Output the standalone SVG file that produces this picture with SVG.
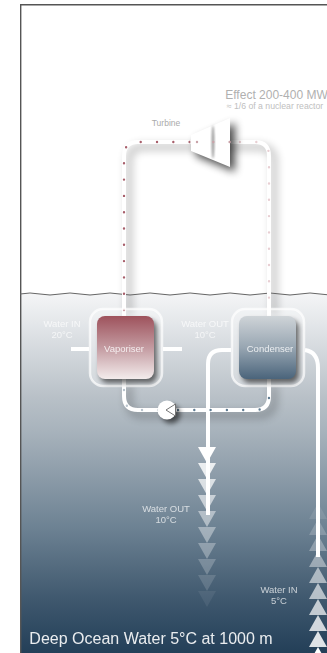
<svg xmlns="http://www.w3.org/2000/svg" width="327" height="653" viewBox="0 0 327 653">
<style>
text{font-family:"Liberation Sans",Arial,sans-serif;text-anchor:middle}
.pipe{fill:none;stroke:#fff;stroke-width:4}
.pipeS{fill:none;stroke:#000;stroke-width:7;opacity:.22;filter:url(#b4)}
.dots{fill:none;stroke-width:2.4;stroke-linecap:round;stroke-dasharray:0 16.3}
.lab{fill:#fff;font-size:9.5px;opacity:.7}
.halo{fill:#fff;fill-opacity:.3;stroke:#fff;stroke-opacity:.7;stroke-width:2.5}
</style>
<defs>
<linearGradient id="sea" x1="0" y1="0" x2="0" y2="1">
<stop offset="0" stop-color="#f4f5f6"/><stop offset=".08" stop-color="#e4e7ea"/><stop offset=".29" stop-color="#b8c0c7"/><stop offset=".38" stop-color="#a8b3bc"/><stop offset=".65" stop-color="#6d8293"/><stop offset=".85" stop-color="#3f586e"/><stop offset="1" stop-color="#233f58"/>
</linearGradient>
<linearGradient id="vap" x1="0" y1="0" x2="0" y2="1"><stop offset="0" stop-color="#9e525c"/><stop offset=".5" stop-color="#c39aa0"/><stop offset="1" stop-color="#f3ecec"/></linearGradient>
<linearGradient id="con" x1="0" y1="0" x2="0" y2="1"><stop offset="0" stop-color="#cfd4d8"/><stop offset=".5" stop-color="#98a6b2"/><stop offset="1" stop-color="#4a647b"/></linearGradient>
<filter id="b4" x="-50%" y="-50%" width="200%" height="200%"><feGaussianBlur stdDeviation="4.5"/></filter>
<filter id="b2" x="-50%" y="-50%" width="200%" height="200%"><feGaussianBlur stdDeviation="2.5"/></filter>
<filter id="b1" x="-50%" y="-50%" width="200%" height="200%"><feGaussianBlur stdDeviation=".8"/></filter>
<polygon id="dn" points="-9,0 9,0 0,16" fill="#fff"/>
<polygon id="up" points="-9,16 9,16 0,0" fill="#fff"/>
<clipPath id="frame"><rect x="20" y="4" width="307" height="649"/></clipPath>
</defs>
<rect width="327" height="653" fill="#fff"/>
<g id="ocean"><rect x="20" y="294" width="307" height="359" fill="url(#sea)"/></g>
<g id="frameLines" fill="none" stroke="#555" stroke-width="1.4">
<path d="M20.700 653V4.700H327"/>
</g>
<g id="waterOutArrows">
<use href="#dn" x="207" y="447"/>
<use href="#dn" x="207" y="463" opacity=".82"/>
<use href="#dn" x="207" y="479" opacity=".7"/>
<use href="#dn" x="207" y="495" opacity=".58"/>
<use href="#dn" x="207" y="511" opacity=".46"/>
<use href="#dn" x="207" y="527" opacity=".38"/>
<use href="#dn" x="207" y="543" opacity=".3"/>
<use href="#dn" x="207" y="559" opacity=".22"/>
<use href="#dn" x="207" y="575" opacity=".14"/>
<use href="#dn" x="207" y="591" opacity=".07"/>
</g>
<g id="waterInArrows" clip-path="url(#frame)">
<use href="#up" x="318" y="647"/>
<use href="#up" x="318" y="631" opacity=".85"/>
<use href="#up" x="318" y="615" opacity=".78"/>
<use href="#up" x="318" y="599" opacity=".7"/>
<use href="#up" x="318" y="583" opacity=".62"/>
<use href="#up" x="318" y="567" opacity=".54"/>
<use href="#up" x="318" y="551" opacity=".42"/>
<use href="#up" x="318" y="535" opacity=".3"/>
<use href="#up" x="318" y="519" opacity=".2"/>
<use href="#up" x="318" y="503" opacity=".1"/>
</g>
<g id="connectors" clip-path="url(#frame)">
<path class="pipeS" d="M129 316V161Q129 147 143 147H258Q274 147 274 161V316"/>
<path class="pipeS" d="M129 385V401Q129 415 143 415H258Q274 415 274 401V385"/>
<path id="surface" d="M20 294q10 -2 20 0t20 0t20 0t20 0t20 0t20 0t20 0t20 0t20 0t20 0t20 0t20 0t20 0t20 0t20 0t20 0" fill="none" stroke="#666" stroke-width="1"/>
<path class="pipe" d="M124 316V156Q124 142 138 142H255Q269 142 269 156V316"/>
<path class="pipe" d="M124 379V396Q124 410 138 410H255Q269 410 269 396V379"/>
<path class="pipe" d="M71 349H89M163 349H182"/>
<path class="pipe" d="M231 350H222Q208 350 208 364V515"/>
<path class="pipe" d="M305 350Q318 352 318 368V557"/>
<path class="dots" stroke="#a85f6b" d="M124 310V156Q124 142 138 142H191"/>
<path class="dots" stroke="#e8cfd3" d="M191 142H255Q269 142 269 156V310"/>
<path class="dots" stroke="#b9c4cd" d="M124 390V396Q124 410 138 410H160"/>
<path class="dots" stroke="#5f7b91" d="M178 410H255Q269 410 269 396V390"/>
</g>
<g id="vaporiser">
<rect class="halo" x="90" y="309" width="72" height="77" rx="13"/>
<rect x="100" y="320" width="57" height="63" rx="8" fill="#000" opacity=".55" filter="url(#b2)"/>
<rect x="97" y="316" width="57" height="63" rx="8" fill="url(#vap)"/>
<text x="124" y="352" fill="#fff" font-size="9.500" opacity=".8">Vaporiser</text>
</g>
<g id="condenser">
<rect class="halo" x="232" y="309" width="72" height="77" rx="13"/>
<rect x="242" y="320" width="57" height="63" rx="8" fill="#000" opacity=".55" filter="url(#b2)"/>
<rect x="239" y="316" width="57" height="63" rx="8" fill="url(#con)"/>
<text x="270" y="352" fill="#fff" font-size="9.500" opacity=".8">Condenser</text>
</g>
<g id="turbine">
<polygon points="196,140 235,123 235,172 196,156" fill="#000" opacity=".7" filter="url(#b4)"/>
<polygon points="191,135 230,118 230,167 191,151" fill="#fff"/>
<ellipse cx="213" cy="142" rx="1.400" ry="16.500" fill="#9a9a9a" filter="url(#b1)"/>
<path class="dots" stroke="#c9a2a8" d="M197 142H232"/>
</g>
<g id="pump">
<circle cx="171" cy="414" r="9.500" fill="#000" opacity=".55" filter="url(#b2)"/>
<circle cx="167" cy="410" r="9.500" fill="#fff"/>
<polygon points="166,410 175.500,404 175.500,416" fill="#fff" stroke="#666" stroke-width=".9"/>
</g>
<g id="labels">
<text x="166" y="126" fill="#aaa" font-size="8.500">Turbine</text>
<text x="276.500" y="99" fill="#b0b0b0" font-size="12">Effect 200-400 MW</text>
<text x="275" y="109" fill="#c0c0c0" font-size="8.700">≈ 1/6 of a nuclear reactor</text>
<text class="lab" x="62" y="327">Water IN</text>
<text class="lab" x="62" y="338">20°C</text>
<text class="lab" x="205" y="327">Water OUT</text>
<text class="lab" x="205" y="338">10°C</text>
<text class="lab" x="166" y="512">Water OUT</text>
<text class="lab" x="166" y="523">10°C</text>
<text class="lab" x="279" y="593">Water IN</text>
<text class="lab" x="279" y="604">5°C</text>
<text x="151" y="644" fill="#fff" font-size="16" opacity=".9">Deep Ocean Water 5°C at 1000 m</text>
</g>
</svg>
